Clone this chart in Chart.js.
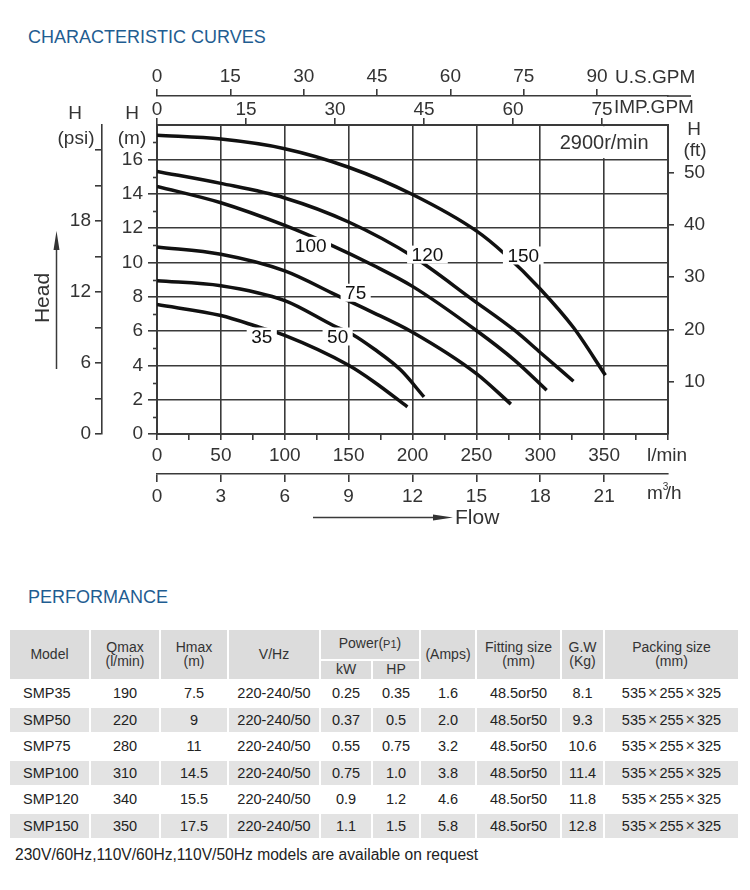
<!DOCTYPE html>
<html>
<head>
<meta charset="utf-8">
<script src="https://cdn.jsdelivr.net/npm/chart.js@4.4.1/dist/chart.umd.min.js"></script>
<style>
  body { margin: 0; width: 750px; height: 890px; background: #fff; position: relative; overflow: hidden;
         font-family: "Liberation Sans", Arial, sans-serif; }
  .title { position: absolute; left: 28px; font-size: 18px; line-height: 18px; color: #1f5d91; white-space: nowrap; }
  #wrap { position: absolute; left: 0; top: 0; width: 750px; height: 540px; }
  table { position: absolute; left: 8px; top: 628px; border-collapse: separate; border-spacing: 2px;
          table-layout: fixed; width: 732px; font-size: 14.5px; color: #222; }
  th, td { padding: 0; text-align: center; vertical-align: middle; white-space: nowrap; }
  th { background: #dcdcdc; font-weight: normal; font-size: 14px; line-height: 13.5px; color: #333; }
  thead tr.r1 { height: 29px; }
  thead tr.r2 { height: 18px; }
  tbody tr { height: 24.5px; }
  tbody tr:nth-child(even) td { background: #e3e3e3; }
  td.m { text-align: left; text-indent: 13px; }
  small { font-size: 11px; }
  .x { margin: 0 2px; font-size: 16px; color: #444; }
  .note { position: absolute; left: 15px; top: 846px; font-size: 15.6px; color: #222; white-space: nowrap; }
</style>
</head>
<body>
<div class="title" style="top:28px">CHARACTERISTIC CURVES</div>
<div id="wrap"><canvas id="curves" width="750" height="540"></canvas></div>
<div class="title" style="top:588px">PERFORMANCE</div>
<table>
  <colgroup>
    <col style="width:79px"><col style="width:68px"><col style="width:66px"><col style="width:90px">
    <col style="width:50px"><col style="width:46px"><col style="width:54px"><col style="width:83px">
    <col style="width:41px"><col style="width:133px">
  </colgroup>
  <thead>
    <tr class="r1">
      <th rowspan="2">Model</th><th rowspan="2">Qmax<br>(l/min)</th><th rowspan="2">Hmax<br>(m)</th>
      <th rowspan="2">V/Hz</th><th colspan="2">Power(<small>P1</small>)</th><th rowspan="2">(Amps)</th>
      <th rowspan="2">Fitting size<br>(mm)</th><th rowspan="2">G.W<br>(Kg)</th><th rowspan="2">Packing size<br>(mm)</th>
    </tr>
    <tr class="r2"><th>kW</th><th>HP</th></tr>
  </thead>
  <tbody id="rows"></tbody>
</table>
<div class="note">230V/60Hz,110V/60Hz,110V/50Hz models are available on request</div>

<script>
// pump curves, [flow l/min, head m]
const smp35 = [[0, 7.54], [50, 6.9], [80, 6.22], [100, 5.74], [150, 4.0], [170, 3.03], [196, 1.58]];
const smp50 = [[0, 8.93], [50, 8.64], [100, 7.77], [138, 6.32], [153, 5.8], [170, 4.95], [191, 3.71], [209, 2.16]];
const smp75 = [[0, 10.9], [50, 10.47], [100, 9.5], [140, 8.1], [166, 7.19], [200, 5.93], [250, 3.52], [277, 1.74]];
const smp100 = [[0, 14.42], [50, 13.47], [100, 12.15], [135, 11.05], [170, 9.8], [200, 8.6], [250, 6.03], [280, 4.29], [305, 2.55]];
const smp120 = [[0, 15.3], [50, 14.6], [100, 13.75], [150, 12.35], [200, 10.35], [248, 7.77], [280, 6.03], [300, 4.75], [326, 3.07]];
const smp150 = [[0, 17.4], [50, 17.18], [100, 16.62], [150, 15.54], [200, 13.95], [250, 11.83], [272, 10.5], [300, 8.45], [326, 6.2], [351, 3.42]];
const curveNames = ['35', '50', '75', '100', '120', '150'];
const speedLabel = '2900r/min';

// performance table
const models = ['SMP35', 'SMP50', 'SMP75', 'SMP100', 'SMP120', 'SMP150'];
const qmax = ['190', '220', '280', '310', '340', '350'];
const hmax = ['7.5', '9', '11', '14.5', '15.5', '17.5'];
const volts = ['220-240/50', '220-240/50', '220-240/50', '220-240/50', '220-240/50', '220-240/50'];
const kw = ['0.25', '0.37', '0.55', '0.75', '0.9', '1.1'];
const hp = ['0.35', '0.5', '0.75', '1.0', '1.2', '1.5'];
const amps = ['1.6', '2.0', '3.2', '3.8', '4.6', '5.8'];
const fitting = ['48.5or50', '48.5or50', '48.5or50', '48.5or50', '48.5or50', '48.5or50'];
const weight = ['8.1', '9.3', '10.6', '11.4', '11.8', '12.8'];
const packing = [[535, 255, 325], [535, 255, 325], [535, 255, 325], [535, 255, 325], [535, 255, 325], [535, 255, 325]];

document.getElementById('rows').innerHTML = models.map((m, i) =>
    `<tr><td class="m">${m}</td><td>${qmax[i]}</td><td>${hmax[i]}</td><td>${volts[i]}</td>` +
    `<td>${kw[i]}</td><td>${hp[i]}</td><td>${amps[i]}</td><td>${fitting[i]}</td><td>${weight[i]}</td>` +
    `<td>${packing[i].join('<span class="x">×</span>')}</td></tr>`
).join('');

const dark = '#3a3a3a';
const ink = '#333';
const fam = '"Liberation Sans", Arial, sans-serif';
const F = (s) => `${s}px ${fam}`;
Chart.defaults.font.family = fam;
Chart.defaults.color = ink;

// where the curve numbers sit (flow, head)
const tags = [[82, 5.68], [141.4, 5.68], [155.5, 8.23], [120.3, 10.96], [211.7, 10.45], [286.7, 10.4]];

const fit = (prop, size) => (s) => { s[prop] = size; };
const tickFont = { size: 19 };

function line(ctx, x1, y1, x2, y2) {
    ctx.beginPath();
    ctx.moveTo(x1, y1);
    ctx.lineTo(x2, y2);
    ctx.stroke();
}

const decor = {
    id: 'decor',
    beforeDatasetsDraw(chart) {
        const { ctx, scales: { x, y } } = chart;
        const l = x.getPixelForValue(300) + 1.2, r = x.getPixelForValue(400) - 1.2;
        const t = y.getPixelForValue(18) + 1.2, b = y.getPixelForValue(16) - 1.2;
        ctx.save();
        ctx.fillStyle = '#fff';
        ctx.fillRect(l, t, r - l, b - t);
        ctx.fillStyle = ink;
        ctx.font = F(20);
        ctx.textAlign = 'center';
        ctx.textBaseline = 'middle';
        ctx.fillText(speedLabel, (l + r) / 2, (t + b) / 2 + 1);
        ctx.restore();
    },
    afterDatasetsDraw(chart) {
        const { ctx, scales: { x, y } } = chart;
        ctx.save();
        ctx.font = F(19);
        ctx.textAlign = 'center';
        ctx.textBaseline = 'middle';
        tags.forEach(([q, h], i) => {
            const px = x.getPixelForValue(q), py = y.getPixelForValue(h);
            const w = ctx.measureText(curveNames[i]).width + 9;
            ctx.fillStyle = '#fff';
            ctx.fillRect(px - w / 2, py - 9, w, 18);
            ctx.fillStyle = '#111';
            ctx.fillText(curveNames[i], px, py + 1);
        });
        ctx.restore();
    },
    afterDraw(chart) {
        const { ctx, chartArea: a, scales: { y, us } } = chart;
        ctx.save();
        ctx.strokeStyle = dark;
        ctx.fillStyle = ink;
        ctx.lineWidth = 1.6;
        // minor ticks on the metre axis
        for (let v = 1; v < 18; v += 2) {
            const py = Math.round(y.getPixelForValue(v)) + 0.5;
            line(ctx, a.left - 4, py, a.left, py);
        }
        // US gallon line runs past the plot
        line(ctx, a.right - 1, us.bottom, 691, us.bottom);

        ctx.font = F(19);
        ctx.textAlign = 'center';
        ctx.textBaseline = 'middle';
        ctx.fillText('H', 132, 114);
        ctx.fillText('(m)', 132, 139);
        ctx.fillText('H', 75, 114);
        ctx.fillText('(psi)', 76, 139);
        ctx.fillText('H', 694, 130);
        ctx.fillText('(ft)', 695, 151);

        ctx.textAlign = 'left';
        ctx.fillText('U.S.GPM', 615, 78);
        ctx.fillText('IMP.GPM', 614, 108);
        ctx.fillText('l/min', 647, 456);
        ctx.fillText('m', 647, 494);
        const mw = ctx.measureText('m').width;
        ctx.fillText('/h', 647 + mw + 3, 494);
        ctx.font = F(10);
        ctx.fillText('3', 647 + mw, 487);

        // flow arrow
        ctx.lineWidth = 1.5;
        line(ctx, 313, 517.5, 440, 517.5);
        ctx.beginPath();
        ctx.moveTo(453, 517.5);
        ctx.lineTo(433, 514.5);
        ctx.lineTo(433, 520.5);
        ctx.closePath();
        ctx.fill();
        ctx.font = F(21);
        ctx.fillText('Flow', 455, 518);

        // head arrow
        line(ctx, 56.5, 369, 56.5, 245);
        ctx.beginPath();
        ctx.moveTo(56.5, 231);
        ctx.lineTo(53.5, 250);
        ctx.lineTo(59.5, 250);
        ctx.closePath();
        ctx.fill();
        ctx.translate(43, 298);
        ctx.rotate(-Math.PI / 2);
        ctx.textAlign = 'center';
        ctx.fillText('Head', 0, 0);
        ctx.restore();
    },
};

const gridOn = (ok) => (c) => (ok(c.tick.value) ? dark : 'transparent');

new Chart(document.getElementById('curves'), {
    type: 'scatter',
    data: {
        datasets: [smp35, smp50, smp75, smp100, smp120, smp150].map((pts, i) => ({
            label: curveNames[i],
            data: pts.map(([q, h]) => ({ x: q, y: h })),
            showLine: true,
            borderColor: '#111',
            borderWidth: 3.5,
            borderCapStyle: 'butt',
            pointRadius: 0,
            cubicInterpolationMode: 'monotone',
        })),
    },
    options: {
        responsive: false,
        animation: false,
        events: [],
        layout: { padding: { left: 42, top: 60, right: 42, bottom: 36 } },
        plugins: { legend: { display: false }, tooltip: { enabled: false } },
        scales: {
            x: {
                type: 'linear', position: 'bottom', min: 0, max: 400, weight: 0,
                afterFit: fit('height', 40),
                ticks: { stepSize: 25, autoSkip: false, maxRotation: 0, padding: 4, font: tickFont,
                    callback: (v) => (v % 50 === 0 && v < 400 ? v : '') },
                grid: { color: gridOn((v) => v % 50 === 0), tickColor: dark, lineWidth: 1.6, tickLength: 6 },
                border: { color: dark, width: 2 },
            },
            m3h: {
                axis: 'x', type: 'linear', position: 'bottom', min: 0, max: 24, weight: 1,
                afterFit: fit('height', 30),
                ticks: { stepSize: 3, autoSkip: false, maxRotation: 0, padding: 3, font: tickFont,
                    callback: (v) => (v < 24 ? v : '') },
                grid: { drawOnChartArea: false, tickColor: gridOn((v) => v < 24), lineWidth: 1.6, tickLength: 8 },
                border: { color: dark, width: 1.6 },
            },
            imp: {
                axis: 'x', type: 'linear', position: 'top', min: 0, max: 86.1, weight: 0,
                afterFit: fit('height', 29),
                ticks: { stepSize: 15, includeBounds: false, autoSkip: false, maxRotation: 0, padding: -3, font: tickFont },
                grid: { drawOnChartArea: false, tickColor: dark, lineWidth: 1.6, tickLength: 7 },
                border: { color: dark, width: 2 },
            },
            us: {
                axis: 'x', type: 'linear', position: 'top', min: 0, max: 104.5, weight: 1,
                afterFit: fit('height', 36),
                ticks: { stepSize: 15, includeBounds: false, autoSkip: false, maxRotation: 0, padding: 1, font: tickFont },
                grid: { drawOnChartArea: false, tickColor: dark, lineWidth: 1.6, tickLength: 7 },
                border: { color: dark, width: 1.6 },
            },
            y: {
                type: 'linear', position: 'left', min: 0, max: 18, weight: 0,
                afterFit: fit('width', 55),
                ticks: { stepSize: 1, autoSkip: false, padding: 5, font: tickFont,
                    callback: (v) => (v % 2 === 0 && v < 18 ? v : '') },
                grid: { color: gridOn((v) => v % 2 === 0), tickColor: gridOn((v) => v % 2 === 0 && v < 18),
                    lineWidth: 1.6, tickLength: 9 },
                border: { color: dark, width: 2 },
            },
            psi: {
                axis: 'y', type: 'linear', position: 'left', min: 0, max: 26.1, weight: 1,
                afterFit: fit('width', 60),
                ticks: { stepSize: 3, includeBounds: false, autoSkip: false, padding: 4, font: tickFont,
                    callback: (v) => (v % 6 === 0 && v < 24 ? v : '') },
                grid: { drawOnChartArea: false, tickColor: dark, lineWidth: 1.6, tickLength: 7 },
                border: { color: dark, width: 1.6 },
            },
            ft: {
                axis: 'y', type: 'linear', position: 'right', min: 0, max: 59.06, weight: 0,
                afterFit: fit('width', 40),
                ticks: { stepSize: 10, includeBounds: false, autoSkip: false, padding: 10, font: tickFont,
                    callback: (v) => (v > 0 ? v : '') },
                grid: { drawOnChartArea: false, tickColor: gridOn((v) => v > 0), lineWidth: 1.6, tickLength: 6 },
                border: { color: dark, width: 2 },
            },
        },
    },
    plugins: [decor],
});
</script>
</body>
</html>
